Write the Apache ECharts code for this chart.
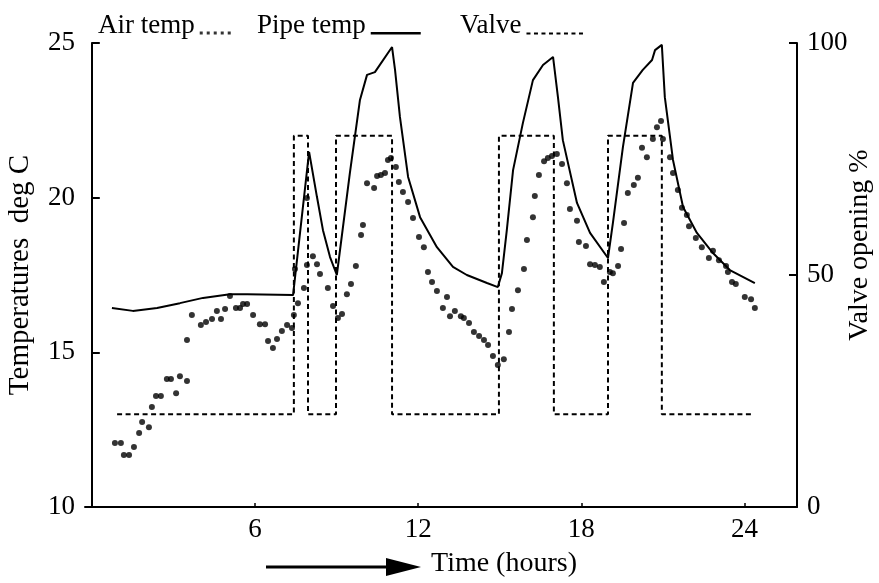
<!DOCTYPE html>
<html>
<head>
<meta charset="utf-8">
<script src="https://cdn.jsdelivr.net/npm/echarts@6/dist/echarts.min.js"></script>
<style>
html,body{margin:0;padding:0;background:#fff;}
#chart{width:879px;height:583px;}
</style>
</head>
<body>
<div id="chart"></div>
<script>
// ---- data ----
const xTicks = [6, 12, 18, 24];

const airHours = [0.85,1.07,1.18,1.37,1.55,1.74,1.85,2.10,2.21,2.36,
  2.54,2.76,2.91,3.10,3.24,3.50,3.50,3.68,4.01,4.20,
  4.42,4.60,4.75,4.90,5.08,5.30,5.45,5.56,5.71,5.93,
  6.18,6.37,6.48,6.66,6.81,6.99,7.18,7.36,7.43,7.47,
  7.58,7.80,7.91,7.91,8.13,8.28,8.39,8.68,8.87,9.05,
  9.20,9.38,9.53,9.71,9.90,9.97,10.12,10.38,10.49,10.63,
  10.78,10.89,11.00,11.18,11.29,11.44,11.63,11.81,12.03,12.21,
  12.36,12.51,12.69,12.91,13.06,13.17,13.35,13.57,13.68,13.87,
  14.05,14.24,14.42,14.57,14.75,14.93,15.15,15.34,15.45,15.67,
  15.89,16.00,16.22,16.29,16.44,16.63,16.77,16.92,17.10,17.29,
  17.47,17.58,17.84,17.91,18.17,18.32,18.50,18.68,18.83,19.05,
  19.16,19.35,19.46,19.57,19.71,19.93,20.08,20.23,20.41,20.63,
  20.78,20.93,21.00,21.26,21.37,21.55,21.70,21.88,21.96,22.21,
  22.43,22.69,22.84,23.06,23.32,23.39,23.54,23.68,24.01,24.24,24.38];
const airTemp = [12.07,12.07,11.68,11.68,11.94,12.39,12.75,12.58,13.23,13.59,
  13.59,14.14,14.14,13.68,14.23,14.07,15.40,16.21,15.88,15.98,
  16.08,16.34,16.08,16.40,16.82,16.43,16.43,16.56,16.56,16.21,
  15.91,15.91,15.37,15.14,15.43,15.69,15.88,15.79,16.21,17.69,
  16.59,17.08,17.82,19.99,18.11,17.85,17.53,17.08,16.50,16.11,
  16.24,16.88,17.21,17.79,18.79,19.12,20.47,20.31,20.70,20.73,
  20.80,21.22,21.28,20.99,20.51,20.18,19.86,19.34,18.73,18.40,
  17.60,17.27,16.98,16.43,16.79,16.17,16.34,16.17,16.11,15.95,
  15.66,15.53,15.40,15.24,14.88,14.59,14.78,15.66,16.40,17.01,
  17.69,18.63,19.37,20.05,20.73,21.18,21.28,21.35,21.41,21.09,
  20.47,19.63,19.25,18.57,18.44,17.85,17.82,17.76,17.27,17.60,
  17.56,17.79,18.34,19.18,20.15,20.41,20.64,21.61,21.31,21.90,
  22.28,22.48,21.90,21.31,20.80,20.25,19.67,19.44,19.08,18.70,
  18.40,18.05,18.28,17.98,17.79,17.60,17.27,17.21,16.79,16.72,16.43];

const pipeHours = [0.74,1.51,2.40,3.24,4.09,5.08,5.71,7.40,7.99,8.28,
  8.50,8.76,9.01,9.49,9.86,10.12,10.41,11.04,11.15,11.33,
  11.63,12.07,12.69,13.28,13.79,14.53,14.93,15.08,15.26,15.49,
  15.85,16.22,16.59,16.96,17.14,17.32,17.84,18.32,18.98,19.16,
  19.53,19.90,20.26,20.60,20.71,20.96,21.07,21.37,21.74,22.25,
  22.84,23.46,24.38];
const pipeTemp = [16.43,16.34,16.43,16.59,16.76,16.88,16.88,16.85,21.48,20.02,
  18.95,18.08,17.50,20.80,23.16,23.97,24.06,24.87,24.13,22.61,
  20.67,19.37,18.40,17.76,17.50,17.24,17.11,17.56,18.95,20.89,
  22.41,23.80,24.29,24.55,23.25,21.86,19.83,18.86,18.05,19.18,
  21.64,23.71,24.13,24.45,24.77,24.94,23.25,21.22,19.70,18.86,
  18.21,17.66,17.24];

const valveHours = [0.93,7.43,7.95,8.98,11.04,14.97,16.99,18.98,20.96,24.27];
const valveOpen  = [20,80,20,80,20,80,20,80,20,20];

// ---- chart ----
const FONT = 'Liberation Serif, Times New Roman, serif';
const zip = (a, b) => a.map((v, i) => [v, b[i]]);
const chart = echarts.init(document.getElementById('chart'), null, {renderer: 'canvas'});

const legendText = {fontFamily: FONT, fontSize: 27, color: '#000'};
const mkLegend = (name, left, icon, w) => ({
  data: [{name: name, icon: icon}],
  left: left, top: 12, padding: 0, align: 'right',
  itemWidth: w, itemHeight: 18, selectedMode: false,
  textStyle: legendText
});

const option = {
  animation: false,
  backgroundColor: '#fff',
  grid: {left: 85, right: 82, top: 43, bottom: 76, outerBoundsMode: 'none'},
  legend: [
    mkLegend('Air temp', 98,
      'path://M0,0 M0,15h3v3h-3z M7,15h3v3h-3z M14,15h3v3h-3z M21,15h3v3h-3z M28,15h3v3h-3z', 31),
    mkLegend('Pipe temp', 257, 'path://M0,0 M0,15.5h50v2.5h-50z', 50),
    mkLegend('Valve', 460,
      'path://M0,0 M0,16h4v2h-4z M7.5,16h4v2h-4z M15,16h4v2h-4z M22.5,16h4v2h-4z M30,16h4v2h-4z M37.5,16h4v2h-4z M45,16h4v2h-4z M52.5,16h4v2h-4z', 56.5)
  ],
  xAxis: {
    type: 'value', min: -0.25, max: 25.93,
    name: 'Time (hours)', nameLocation: 'middle', nameGap: 43, nameMoveOverlap: false,
    nameTextStyle: {fontFamily: FONT, fontSize: 28, color: '#000', padding: [0, 0, 0, 126]},
    axisLine: {show: true, onZero: false, lineStyle: {color: '#000', width: 2}},
    axisTick: {show: true, inside: true, length: 4, customValues: xTicks, lineStyle: {color: '#000', width: 1.5}},
    axisLabel: {customValues: xTicks, margin: 9, fontFamily: FONT, fontSize: 27, color: '#000'},
    splitLine: {show: false}
  },
  yAxis: [
    {
      type: 'value', min: 10, max: 25, interval: 5, position: 'left',
      name: 'Temperatures  deg C', nameLocation: 'middle', nameRotate: 90, nameGap: 50, nameMoveOverlap: false,
      nameTextStyle: {fontFamily: FONT, fontSize: 29, color: '#000'},
      axisLine: {show: true, lineStyle: {color: '#000', width: 2}},
      axisTick: {show: true, inside: true, length: 8, lineStyle: {color: '#000', width: 2}},
      axisLabel: {margin: 10, fontFamily: FONT, fontSize: 27, color: '#000'},
      splitLine: {show: false}
    },
    {
      type: 'value', min: 0, max: 100, interval: 50, position: 'right',
      name: 'Valve opening %', nameLocation: 'middle', nameRotate: 90, nameGap: 49, nameMoveOverlap: false,
      nameTextStyle: {fontFamily: FONT, fontSize: 28, color: '#000', padding: [0, 0, 0, 60]},
      axisLine: {show: true, lineStyle: {color: '#000', width: 2}},
      axisTick: {show: true, inside: true, length: 8, lineStyle: {color: '#000', width: 2}},
      axisLabel: {margin: 10, fontFamily: FONT, fontSize: 27, color: '#000'},
      splitLine: {show: false}
    }
  ],
  series: [
    {
      name: 'Air temp', type: 'scatter', yAxisIndex: 0,
      symbol: 'circle', symbolSize: 6,
      itemStyle: {color: '#000'},
      data: zip(airHours, airTemp), z: 3
    },
    {
      name: 'Pipe temp', type: 'line', yAxisIndex: 0,
      showSymbol: false, symbol: 'none',
      lineStyle: {color: '#000', width: 2},
      itemStyle: {color: '#000'},
      data: zip(pipeHours, pipeTemp), z: 2
    },
    {
      name: 'Valve', type: 'line', yAxisIndex: 1, step: 'end',
      showSymbol: false, symbol: 'none',
      lineStyle: {color: '#000', width: 2, type: [5, 3.5]},
      itemStyle: {color: '#000'},
      data: zip(valveHours, valveOpen), z: 1
    }
  ],
  graphic: [
    {type: 'line', shape: {x1: 266, y1: 567, x2: 392, y2: 567}, style: {stroke: '#000', lineWidth: 3}},
    {type: 'polygon', shape: {points: [[386, 558], [421, 567], [386, 576]]}, style: {fill: '#000'}}
  ]
};
chart.setOption(option);
</script>
</body>
</html>
